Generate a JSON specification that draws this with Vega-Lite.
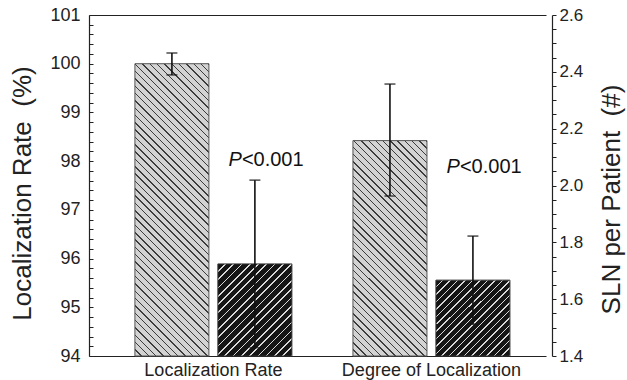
{
"$schema": "https://vega.github.io/schema/vega-lite/v6.json",
"width": 457, "height": 341,
"autosize": "none",
"padding": {"left": 89, "top": 15, "right": 81, "bottom": 24},
"config": {"view": {"stroke": null}, "font": "Liberation Sans",
  "axis": {"grid": false, "domainColor": "#222", "tickColor": "#222", "labelColor": "#222", "titleColor": "#222", "labelFont": "Liberation Sans", "titleFont": "Liberation Sans", "titleFontWeight": "normal", "domainWidth": 1.2, "tickWidth": 1}},
"data": {"values": [
  {"group": "Localization Rate", "series": "A", "value": 100.0, "lower": 99.77, "upper": 100.22},
  {"group": "Localization Rate", "series": "B", "value": 95.89, "lower": 94.17, "upper": 97.61},
  {"group": "Degree of Localization", "series": "A", "value": 2.158, "lower": 1.963, "upper": 2.357},
  {"group": "Degree of Localization", "series": "B", "value": 1.667, "lower": 1.512, "upper": 1.822}
]},
"encoding": {
  "x": {"field": "group", "type": "nominal", "scale": {"domain": ["Localization Rate", "Degree of Localization"], "paddingInner": 0.28, "paddingOuter": 0.188, "align": 0.56}, "axis": null},
  "xOffset": {"field": "series", "type": "nominal", "scale": {"domain": ["A", "B"], "paddingInner": 0.108, "paddingOuter": 0}}
},
"resolve": {"scale": {"y": "independent"}, "axis": {"x": "independent", "y": "independent"}},
"layer": [
   {"transform": [{"filter": "datum.group === 'Localization Rate' && datum.series === 'A'"}],
    "mark": {"type": "bar", "stroke": "#555", "strokeWidth": 1,
      "fill": {"gradient": "linear", "x1": 0, "y1": 1, "x2": 0.2982, "y2": -0.1777, "stops": [
{"offset":0,"color":"#d3d3d3"},{"offset":0.016,"color":"#d3d3d3"},{"offset":0.016,"color":"#3c3c3c"},{"offset":0.02,"color":"#3c3c3c"},
{"offset":0.02,"color":"#d3d3d3"},{"offset":0.036,"color":"#d3d3d3"},{"offset":0.036,"color":"#3c3c3c"},{"offset":0.04,"color":"#3c3c3c"},
{"offset":0.04,"color":"#d3d3d3"},{"offset":0.056,"color":"#d3d3d3"},{"offset":0.056,"color":"#3c3c3c"},{"offset":0.06,"color":"#3c3c3c"},
{"offset":0.06,"color":"#d3d3d3"},{"offset":0.076,"color":"#d3d3d3"},{"offset":0.076,"color":"#3c3c3c"},{"offset":0.08,"color":"#3c3c3c"},
{"offset":0.08,"color":"#d3d3d3"},{"offset":0.096,"color":"#d3d3d3"},{"offset":0.096,"color":"#3c3c3c"},{"offset":0.1,"color":"#3c3c3c"},
{"offset":0.1,"color":"#d3d3d3"},{"offset":0.116,"color":"#d3d3d3"},{"offset":0.116,"color":"#3c3c3c"},{"offset":0.12,"color":"#3c3c3c"},
{"offset":0.12,"color":"#d3d3d3"},{"offset":0.136,"color":"#d3d3d3"},{"offset":0.136,"color":"#3c3c3c"},{"offset":0.14,"color":"#3c3c3c"},
{"offset":0.14,"color":"#d3d3d3"},{"offset":0.156,"color":"#d3d3d3"},{"offset":0.156,"color":"#3c3c3c"},{"offset":0.16,"color":"#3c3c3c"},
{"offset":0.16,"color":"#d3d3d3"},{"offset":0.176,"color":"#d3d3d3"},{"offset":0.176,"color":"#3c3c3c"},{"offset":0.18,"color":"#3c3c3c"},
{"offset":0.18,"color":"#d3d3d3"},{"offset":0.196,"color":"#d3d3d3"},{"offset":0.196,"color":"#3c3c3c"},{"offset":0.2,"color":"#3c3c3c"},
{"offset":0.2,"color":"#d3d3d3"},{"offset":0.216,"color":"#d3d3d3"},{"offset":0.216,"color":"#3c3c3c"},{"offset":0.22,"color":"#3c3c3c"},
{"offset":0.22,"color":"#d3d3d3"},{"offset":0.236,"color":"#d3d3d3"},{"offset":0.236,"color":"#3c3c3c"},{"offset":0.24,"color":"#3c3c3c"},
{"offset":0.24,"color":"#d3d3d3"},{"offset":0.256,"color":"#d3d3d3"},{"offset":0.256,"color":"#3c3c3c"},{"offset":0.26,"color":"#3c3c3c"},
{"offset":0.26,"color":"#d3d3d3"},{"offset":0.276,"color":"#d3d3d3"},{"offset":0.276,"color":"#3c3c3c"},{"offset":0.28,"color":"#3c3c3c"},
{"offset":0.28,"color":"#d3d3d3"},{"offset":0.296,"color":"#d3d3d3"},{"offset":0.296,"color":"#3c3c3c"},{"offset":0.3,"color":"#3c3c3c"},
{"offset":0.3,"color":"#d3d3d3"},{"offset":0.316,"color":"#d3d3d3"},{"offset":0.316,"color":"#3c3c3c"},{"offset":0.32,"color":"#3c3c3c"},
{"offset":0.32,"color":"#d3d3d3"},{"offset":0.336,"color":"#d3d3d3"},{"offset":0.336,"color":"#3c3c3c"},{"offset":0.34,"color":"#3c3c3c"},
{"offset":0.34,"color":"#d3d3d3"},{"offset":0.356,"color":"#d3d3d3"},{"offset":0.356,"color":"#3c3c3c"},{"offset":0.36,"color":"#3c3c3c"},
{"offset":0.36,"color":"#d3d3d3"},{"offset":0.376,"color":"#d3d3d3"},{"offset":0.376,"color":"#3c3c3c"},{"offset":0.38,"color":"#3c3c3c"},
{"offset":0.38,"color":"#d3d3d3"},{"offset":0.396,"color":"#d3d3d3"},{"offset":0.396,"color":"#3c3c3c"},{"offset":0.4,"color":"#3c3c3c"},
{"offset":0.4,"color":"#d3d3d3"},{"offset":0.416,"color":"#d3d3d3"},{"offset":0.416,"color":"#3c3c3c"},{"offset":0.42,"color":"#3c3c3c"},
{"offset":0.42,"color":"#d3d3d3"},{"offset":0.436,"color":"#d3d3d3"},{"offset":0.436,"color":"#3c3c3c"},{"offset":0.44,"color":"#3c3c3c"},
{"offset":0.44,"color":"#d3d3d3"},{"offset":0.456,"color":"#d3d3d3"},{"offset":0.456,"color":"#3c3c3c"},{"offset":0.46,"color":"#3c3c3c"},
{"offset":0.46,"color":"#d3d3d3"},{"offset":0.476,"color":"#d3d3d3"},{"offset":0.476,"color":"#3c3c3c"},{"offset":0.48,"color":"#3c3c3c"},
{"offset":0.48,"color":"#d3d3d3"},{"offset":0.496,"color":"#d3d3d3"},{"offset":0.496,"color":"#3c3c3c"},{"offset":0.5,"color":"#3c3c3c"},
{"offset":0.5,"color":"#d3d3d3"},{"offset":0.516,"color":"#d3d3d3"},{"offset":0.516,"color":"#3c3c3c"},{"offset":0.52,"color":"#3c3c3c"},
{"offset":0.52,"color":"#d3d3d3"},{"offset":0.536,"color":"#d3d3d3"},{"offset":0.536,"color":"#3c3c3c"},{"offset":0.54,"color":"#3c3c3c"},
{"offset":0.54,"color":"#d3d3d3"},{"offset":0.556,"color":"#d3d3d3"},{"offset":0.556,"color":"#3c3c3c"},{"offset":0.56,"color":"#3c3c3c"},
{"offset":0.56,"color":"#d3d3d3"},{"offset":0.576,"color":"#d3d3d3"},{"offset":0.576,"color":"#3c3c3c"},{"offset":0.58,"color":"#3c3c3c"},
{"offset":0.58,"color":"#d3d3d3"},{"offset":0.596,"color":"#d3d3d3"},{"offset":0.596,"color":"#3c3c3c"},{"offset":0.6,"color":"#3c3c3c"},
{"offset":0.6,"color":"#d3d3d3"},{"offset":0.616,"color":"#d3d3d3"},{"offset":0.616,"color":"#3c3c3c"},{"offset":0.62,"color":"#3c3c3c"},
{"offset":0.62,"color":"#d3d3d3"},{"offset":0.636,"color":"#d3d3d3"},{"offset":0.636,"color":"#3c3c3c"},{"offset":0.64,"color":"#3c3c3c"},
{"offset":0.64,"color":"#d3d3d3"},{"offset":0.656,"color":"#d3d3d3"},{"offset":0.656,"color":"#3c3c3c"},{"offset":0.66,"color":"#3c3c3c"},
{"offset":0.66,"color":"#d3d3d3"},{"offset":0.676,"color":"#d3d3d3"},{"offset":0.676,"color":"#3c3c3c"},{"offset":0.68,"color":"#3c3c3c"},
{"offset":0.68,"color":"#d3d3d3"},{"offset":0.696,"color":"#d3d3d3"},{"offset":0.696,"color":"#3c3c3c"},{"offset":0.7,"color":"#3c3c3c"},
{"offset":0.7,"color":"#d3d3d3"},{"offset":0.716,"color":"#d3d3d3"},{"offset":0.716,"color":"#3c3c3c"},{"offset":0.72,"color":"#3c3c3c"},
{"offset":0.72,"color":"#d3d3d3"},{"offset":0.736,"color":"#d3d3d3"},{"offset":0.736,"color":"#3c3c3c"},{"offset":0.74,"color":"#3c3c3c"},
{"offset":0.74,"color":"#d3d3d3"},{"offset":0.756,"color":"#d3d3d3"},{"offset":0.756,"color":"#3c3c3c"},{"offset":0.76,"color":"#3c3c3c"},
{"offset":0.76,"color":"#d3d3d3"},{"offset":0.776,"color":"#d3d3d3"},{"offset":0.776,"color":"#3c3c3c"},{"offset":0.78,"color":"#3c3c3c"},
{"offset":0.78,"color":"#d3d3d3"},{"offset":0.796,"color":"#d3d3d3"},{"offset":0.796,"color":"#3c3c3c"},{"offset":0.8,"color":"#3c3c3c"},
{"offset":0.8,"color":"#d3d3d3"},{"offset":0.816,"color":"#d3d3d3"},{"offset":0.816,"color":"#3c3c3c"},{"offset":0.82,"color":"#3c3c3c"},
{"offset":0.82,"color":"#d3d3d3"},{"offset":0.836,"color":"#d3d3d3"},{"offset":0.836,"color":"#3c3c3c"},{"offset":0.84,"color":"#3c3c3c"},
{"offset":0.84,"color":"#d3d3d3"},{"offset":0.856,"color":"#d3d3d3"},{"offset":0.856,"color":"#3c3c3c"},{"offset":0.86,"color":"#3c3c3c"},
{"offset":0.86,"color":"#d3d3d3"},{"offset":0.876,"color":"#d3d3d3"},{"offset":0.876,"color":"#3c3c3c"},{"offset":0.88,"color":"#3c3c3c"},
{"offset":0.88,"color":"#d3d3d3"},{"offset":0.896,"color":"#d3d3d3"},{"offset":0.896,"color":"#3c3c3c"},{"offset":0.9,"color":"#3c3c3c"},
{"offset":0.9,"color":"#d3d3d3"},{"offset":0.916,"color":"#d3d3d3"},{"offset":0.916,"color":"#3c3c3c"},{"offset":0.92,"color":"#3c3c3c"},
{"offset":0.92,"color":"#d3d3d3"},{"offset":0.936,"color":"#d3d3d3"},{"offset":0.936,"color":"#3c3c3c"},{"offset":0.94,"color":"#3c3c3c"},
{"offset":0.94,"color":"#d3d3d3"},{"offset":0.956,"color":"#d3d3d3"},{"offset":0.956,"color":"#3c3c3c"},{"offset":0.96,"color":"#3c3c3c"},
{"offset":0.96,"color":"#d3d3d3"},{"offset":0.976,"color":"#d3d3d3"},{"offset":0.976,"color":"#3c3c3c"},{"offset":0.98,"color":"#3c3c3c"},
{"offset":0.98,"color":"#d3d3d3"},{"offset":0.996,"color":"#d3d3d3"},{"offset":0.996,"color":"#3c3c3c"},{"offset":1,"color":"#3c3c3c"}
      ]}},
    "encoding": {
      "x": {"field": "group", "type": "nominal", "scale": {"domain": ["Localization Rate", "Degree of Localization"], "paddingInner": 0.28, "paddingOuter": 0.188, "align": 0.56},
          "axis": {"orient": "bottom", "title": null, "ticks": false, "labelAngle": 0, "labelFontSize": 18, "labelPadding": 5, "domain": true}},
      "y": {"field": "value", "type": "quantitative", "scale": {"domain": [94, 101], "nice": false, "zero": false},
            "axis": {"orient": "left", "title": "Localization Rate \u00a0(%)", "titleFontSize": 26, "titlePadding": 14, "titleY": 178,
                     "values": [94,94.2,94.4,94.6,94.8,95,95.2,95.4,95.6,95.8,96,96.2,96.4,96.6,96.8,97,97.2,97.4,97.6,97.8,98,98.2,98.4,98.6,98.8,99,99.2,99.4,99.6,99.8,100,100.2,100.4,100.6,100.8,101],
                     "labelExpr": "abs(datum.value - round(datum.value)) < 0.001 ? format(datum.value, 'd') : ''",
                     "tickSize": -4, "labelFontSize": 18, "labelPadding": 13, "labelFlush": false, "labelOverlap": false}},
      "y2": {"datum": 94}
    }},
   {"transform": [{"filter": "datum.group === 'Localization Rate' && datum.series === 'B'"}],
    "mark": {"type": "bar", "stroke": "#333", "strokeWidth": 1,
      "fill": {"gradient": "linear", "x1": 0, "y1": 0, "x2": 0.8806, "y2": 1.096, "stops": [
{"offset":0,"color":"#151515"},{"offset":0.04,"color":"#151515"},{"offset":0.04,"color":"#d8d8d8"},{"offset":0.05,"color":"#d8d8d8"},
{"offset":0.05,"color":"#151515"},{"offset":0.09,"color":"#151515"},{"offset":0.09,"color":"#d8d8d8"},{"offset":0.1,"color":"#d8d8d8"},
{"offset":0.1,"color":"#151515"},{"offset":0.14,"color":"#151515"},{"offset":0.14,"color":"#d8d8d8"},{"offset":0.15,"color":"#d8d8d8"},
{"offset":0.15,"color":"#151515"},{"offset":0.19,"color":"#151515"},{"offset":0.19,"color":"#d8d8d8"},{"offset":0.2,"color":"#d8d8d8"},
{"offset":0.2,"color":"#151515"},{"offset":0.24,"color":"#151515"},{"offset":0.24,"color":"#d8d8d8"},{"offset":0.25,"color":"#d8d8d8"},
{"offset":0.25,"color":"#151515"},{"offset":0.29,"color":"#151515"},{"offset":0.29,"color":"#d8d8d8"},{"offset":0.3,"color":"#d8d8d8"},
{"offset":0.3,"color":"#151515"},{"offset":0.34,"color":"#151515"},{"offset":0.34,"color":"#d8d8d8"},{"offset":0.35,"color":"#d8d8d8"},
{"offset":0.35,"color":"#151515"},{"offset":0.39,"color":"#151515"},{"offset":0.39,"color":"#d8d8d8"},{"offset":0.4,"color":"#d8d8d8"},
{"offset":0.4,"color":"#151515"},{"offset":0.44,"color":"#151515"},{"offset":0.44,"color":"#d8d8d8"},{"offset":0.45,"color":"#d8d8d8"},
{"offset":0.45,"color":"#151515"},{"offset":0.49,"color":"#151515"},{"offset":0.49,"color":"#d8d8d8"},{"offset":0.5,"color":"#d8d8d8"},
{"offset":0.5,"color":"#151515"},{"offset":0.54,"color":"#151515"},{"offset":0.54,"color":"#d8d8d8"},{"offset":0.55,"color":"#d8d8d8"},
{"offset":0.55,"color":"#151515"},{"offset":0.59,"color":"#151515"},{"offset":0.59,"color":"#d8d8d8"},{"offset":0.6,"color":"#d8d8d8"},
{"offset":0.6,"color":"#151515"},{"offset":0.64,"color":"#151515"},{"offset":0.64,"color":"#d8d8d8"},{"offset":0.65,"color":"#d8d8d8"},
{"offset":0.65,"color":"#151515"},{"offset":0.69,"color":"#151515"},{"offset":0.69,"color":"#d8d8d8"},{"offset":0.7,"color":"#d8d8d8"},
{"offset":0.7,"color":"#151515"},{"offset":0.74,"color":"#151515"},{"offset":0.74,"color":"#d8d8d8"},{"offset":0.75,"color":"#d8d8d8"},
{"offset":0.75,"color":"#151515"},{"offset":0.79,"color":"#151515"},{"offset":0.79,"color":"#d8d8d8"},{"offset":0.8,"color":"#d8d8d8"},
{"offset":0.8,"color":"#151515"},{"offset":0.84,"color":"#151515"},{"offset":0.84,"color":"#d8d8d8"},{"offset":0.85,"color":"#d8d8d8"},
{"offset":0.85,"color":"#151515"},{"offset":0.89,"color":"#151515"},{"offset":0.89,"color":"#d8d8d8"},{"offset":0.9,"color":"#d8d8d8"},
{"offset":0.9,"color":"#151515"},{"offset":0.94,"color":"#151515"},{"offset":0.94,"color":"#d8d8d8"},{"offset":0.95,"color":"#d8d8d8"},
{"offset":0.95,"color":"#151515"},{"offset":0.99,"color":"#151515"},{"offset":0.99,"color":"#d8d8d8"},{"offset":1,"color":"#d8d8d8"}
      ]}},
    "encoding": {
      "y": {"field": "value", "type": "quantitative", "scale": {"domain": [94, 101], "nice": false, "zero": false}, "axis": null},
      "y2": {"datum": 94}
    }},
   {"transform": [{"filter": "datum.group === 'Localization Rate'"}],
    "mark": {"type": "rule", "color": "#111", "strokeWidth": 1.6},
    "encoding": {
      "y": {"field": "lower", "type": "quantitative", "scale": {"domain": [94, 101], "nice": false, "zero": false}, "axis": null},
      "y2": {"field": "upper"}
    }},
   {"transform": [{"filter": "datum.group === 'Localization Rate'"}],
    "mark": {"type": "tick", "color": "#111", "size": 11, "thickness": 1.6},
    "encoding": {"y": {"field": "upper", "type": "quantitative", "scale": {"domain": [94, 101], "nice": false, "zero": false}, "axis": null}}},
   {"transform": [{"filter": "datum.group === 'Localization Rate'"}],
    "mark": {"type": "tick", "color": "#111", "size": 11, "thickness": 1.6},
    "encoding": {"y": {"field": "lower", "type": "quantitative", "scale": {"domain": [94, 101], "nice": false, "zero": false}, "axis": null}}},
   {"transform": [{"filter": "datum.group === 'Localization Rate' && datum.series === 'B'"}],
    "mark": {"type": "text", "text": "P", "fontStyle": "italic", "fontSize": 20, "align": "right", "baseline": "alphabetic", "dx": -13, "color": "#111"},
    "encoding": {"y": {"datum": 97.9, "type": "quantitative", "scale": {"domain": [94, 101], "nice": false, "zero": false}, "axis": null}}},
   {"transform": [{"filter": "datum.group === 'Localization Rate' && datum.series === 'B'"}],
    "mark": {"type": "text", "text": "<0.001", "fontSize": 20, "align": "left", "baseline": "alphabetic", "dx": -13, "color": "#111"},
    "encoding": {"y": {"datum": 97.9, "type": "quantitative", "scale": {"domain": [94, 101], "nice": false, "zero": false}, "axis": null}}},
   {"transform": [{"filter": "datum.group === 'Degree of Localization' && datum.series === 'A'"}],
    "mark": {"type": "bar", "stroke": "#555", "strokeWidth": 1,
      "fill": {"gradient": "linear", "x1": 0, "y1": 1, "x2": 0.4129, "y2": -0.2017, "stops": [
{"offset":0,"color":"#d3d3d3"},{"offset":0.02,"color":"#d3d3d3"},{"offset":0.02,"color":"#3c3c3c"},{"offset":0.025,"color":"#3c3c3c"},
{"offset":0.025,"color":"#d3d3d3"},{"offset":0.045,"color":"#d3d3d3"},{"offset":0.045,"color":"#3c3c3c"},{"offset":0.05,"color":"#3c3c3c"},
{"offset":0.05,"color":"#d3d3d3"},{"offset":0.07,"color":"#d3d3d3"},{"offset":0.07,"color":"#3c3c3c"},{"offset":0.075,"color":"#3c3c3c"},
{"offset":0.075,"color":"#d3d3d3"},{"offset":0.095,"color":"#d3d3d3"},{"offset":0.095,"color":"#3c3c3c"},{"offset":0.1,"color":"#3c3c3c"},
{"offset":0.1,"color":"#d3d3d3"},{"offset":0.12,"color":"#d3d3d3"},{"offset":0.12,"color":"#3c3c3c"},{"offset":0.125,"color":"#3c3c3c"},
{"offset":0.125,"color":"#d3d3d3"},{"offset":0.145,"color":"#d3d3d3"},{"offset":0.145,"color":"#3c3c3c"},{"offset":0.15,"color":"#3c3c3c"},
{"offset":0.15,"color":"#d3d3d3"},{"offset":0.17,"color":"#d3d3d3"},{"offset":0.17,"color":"#3c3c3c"},{"offset":0.175,"color":"#3c3c3c"},
{"offset":0.175,"color":"#d3d3d3"},{"offset":0.195,"color":"#d3d3d3"},{"offset":0.195,"color":"#3c3c3c"},{"offset":0.2,"color":"#3c3c3c"},
{"offset":0.2,"color":"#d3d3d3"},{"offset":0.22,"color":"#d3d3d3"},{"offset":0.22,"color":"#3c3c3c"},{"offset":0.225,"color":"#3c3c3c"},
{"offset":0.225,"color":"#d3d3d3"},{"offset":0.245,"color":"#d3d3d3"},{"offset":0.245,"color":"#3c3c3c"},{"offset":0.25,"color":"#3c3c3c"},
{"offset":0.25,"color":"#d3d3d3"},{"offset":0.27,"color":"#d3d3d3"},{"offset":0.27,"color":"#3c3c3c"},{"offset":0.275,"color":"#3c3c3c"},
{"offset":0.275,"color":"#d3d3d3"},{"offset":0.295,"color":"#d3d3d3"},{"offset":0.295,"color":"#3c3c3c"},{"offset":0.3,"color":"#3c3c3c"},
{"offset":0.3,"color":"#d3d3d3"},{"offset":0.32,"color":"#d3d3d3"},{"offset":0.32,"color":"#3c3c3c"},{"offset":0.325,"color":"#3c3c3c"},
{"offset":0.325,"color":"#d3d3d3"},{"offset":0.345,"color":"#d3d3d3"},{"offset":0.345,"color":"#3c3c3c"},{"offset":0.35,"color":"#3c3c3c"},
{"offset":0.35,"color":"#d3d3d3"},{"offset":0.37,"color":"#d3d3d3"},{"offset":0.37,"color":"#3c3c3c"},{"offset":0.375,"color":"#3c3c3c"},
{"offset":0.375,"color":"#d3d3d3"},{"offset":0.395,"color":"#d3d3d3"},{"offset":0.395,"color":"#3c3c3c"},{"offset":0.4,"color":"#3c3c3c"},
{"offset":0.4,"color":"#d3d3d3"},{"offset":0.42,"color":"#d3d3d3"},{"offset":0.42,"color":"#3c3c3c"},{"offset":0.425,"color":"#3c3c3c"},
{"offset":0.425,"color":"#d3d3d3"},{"offset":0.445,"color":"#d3d3d3"},{"offset":0.445,"color":"#3c3c3c"},{"offset":0.45,"color":"#3c3c3c"},
{"offset":0.45,"color":"#d3d3d3"},{"offset":0.47,"color":"#d3d3d3"},{"offset":0.47,"color":"#3c3c3c"},{"offset":0.475,"color":"#3c3c3c"},
{"offset":0.475,"color":"#d3d3d3"},{"offset":0.495,"color":"#d3d3d3"},{"offset":0.495,"color":"#3c3c3c"},{"offset":0.5,"color":"#3c3c3c"},
{"offset":0.5,"color":"#d3d3d3"},{"offset":0.52,"color":"#d3d3d3"},{"offset":0.52,"color":"#3c3c3c"},{"offset":0.525,"color":"#3c3c3c"},
{"offset":0.525,"color":"#d3d3d3"},{"offset":0.545,"color":"#d3d3d3"},{"offset":0.545,"color":"#3c3c3c"},{"offset":0.55,"color":"#3c3c3c"},
{"offset":0.55,"color":"#d3d3d3"},{"offset":0.57,"color":"#d3d3d3"},{"offset":0.57,"color":"#3c3c3c"},{"offset":0.575,"color":"#3c3c3c"},
{"offset":0.575,"color":"#d3d3d3"},{"offset":0.595,"color":"#d3d3d3"},{"offset":0.595,"color":"#3c3c3c"},{"offset":0.6,"color":"#3c3c3c"},
{"offset":0.6,"color":"#d3d3d3"},{"offset":0.62,"color":"#d3d3d3"},{"offset":0.62,"color":"#3c3c3c"},{"offset":0.625,"color":"#3c3c3c"},
{"offset":0.625,"color":"#d3d3d3"},{"offset":0.645,"color":"#d3d3d3"},{"offset":0.645,"color":"#3c3c3c"},{"offset":0.65,"color":"#3c3c3c"},
{"offset":0.65,"color":"#d3d3d3"},{"offset":0.67,"color":"#d3d3d3"},{"offset":0.67,"color":"#3c3c3c"},{"offset":0.675,"color":"#3c3c3c"},
{"offset":0.675,"color":"#d3d3d3"},{"offset":0.695,"color":"#d3d3d3"},{"offset":0.695,"color":"#3c3c3c"},{"offset":0.7,"color":"#3c3c3c"},
{"offset":0.7,"color":"#d3d3d3"},{"offset":0.72,"color":"#d3d3d3"},{"offset":0.72,"color":"#3c3c3c"},{"offset":0.725,"color":"#3c3c3c"},
{"offset":0.725,"color":"#d3d3d3"},{"offset":0.745,"color":"#d3d3d3"},{"offset":0.745,"color":"#3c3c3c"},{"offset":0.75,"color":"#3c3c3c"},
{"offset":0.75,"color":"#d3d3d3"},{"offset":0.77,"color":"#d3d3d3"},{"offset":0.77,"color":"#3c3c3c"},{"offset":0.775,"color":"#3c3c3c"},
{"offset":0.775,"color":"#d3d3d3"},{"offset":0.795,"color":"#d3d3d3"},{"offset":0.795,"color":"#3c3c3c"},{"offset":0.8,"color":"#3c3c3c"},
{"offset":0.8,"color":"#d3d3d3"},{"offset":0.82,"color":"#d3d3d3"},{"offset":0.82,"color":"#3c3c3c"},{"offset":0.825,"color":"#3c3c3c"},
{"offset":0.825,"color":"#d3d3d3"},{"offset":0.845,"color":"#d3d3d3"},{"offset":0.845,"color":"#3c3c3c"},{"offset":0.85,"color":"#3c3c3c"},
{"offset":0.85,"color":"#d3d3d3"},{"offset":0.87,"color":"#d3d3d3"},{"offset":0.87,"color":"#3c3c3c"},{"offset":0.875,"color":"#3c3c3c"},
{"offset":0.875,"color":"#d3d3d3"},{"offset":0.895,"color":"#d3d3d3"},{"offset":0.895,"color":"#3c3c3c"},{"offset":0.9,"color":"#3c3c3c"},
{"offset":0.9,"color":"#d3d3d3"},{"offset":0.92,"color":"#d3d3d3"},{"offset":0.92,"color":"#3c3c3c"},{"offset":0.925,"color":"#3c3c3c"},
{"offset":0.925,"color":"#d3d3d3"},{"offset":0.945,"color":"#d3d3d3"},{"offset":0.945,"color":"#3c3c3c"},{"offset":0.95,"color":"#3c3c3c"},
{"offset":0.95,"color":"#d3d3d3"},{"offset":0.97,"color":"#d3d3d3"},{"offset":0.97,"color":"#3c3c3c"},{"offset":0.975,"color":"#3c3c3c"},
{"offset":0.975,"color":"#d3d3d3"},{"offset":0.995,"color":"#d3d3d3"},{"offset":0.995,"color":"#3c3c3c"},{"offset":1,"color":"#3c3c3c"}
      ]}},
    "encoding": {
      "x": {"field": "group", "type": "nominal", "scale": {"domain": ["Localization Rate", "Degree of Localization"], "paddingInner": 0.28, "paddingOuter": 0.188, "align": 0.56},
          "axis": {"orient": "top", "title": null, "ticks": false, "labels": false, "domain": true}},
      "y": {"field": "value", "type": "quantitative", "scale": {"domain": [1.4, 2.6], "nice": false, "zero": false},
            "axis": {"orient": "right", "offset": 6, "title": "SLN per Patient \u00a0(#)", "titleFontSize": 26, "titleAngle": 270, "titleBaseline": "top", "titlePadding": 16, "titleY": 184,
                     "values": [1.4,1.45,1.5,1.55,1.6,1.65,1.7,1.75,1.8,1.85,1.9,1.95,2,2.05,2.1,2.15,2.2,2.25,2.3,2.35,2.4,2.45,2.5,2.55,2.6],
                     "labelExpr": "abs(datum.value * 5 - round(datum.value * 5)) < 0.001 ? format(datum.value, '.1f') : ''",
                     "tickSize": 4, "labelFontSize": 17, "labelPadding": 3, "labelFlush": false, "labelOverlap": false}},
      "y2": {"datum": 1.4}
    }},
   {"transform": [{"filter": "datum.group === 'Degree of Localization' && datum.series === 'B'"}],
    "mark": {"type": "bar", "stroke": "#333", "strokeWidth": 1,
      "fill": {"gradient": "linear", "x1": 0, "y1": 0, "x2": 0.9872, "y2": 1.0125, "stops": [
{"offset":0,"color":"#151515"},{"offset":0.04,"color":"#151515"},{"offset":0.04,"color":"#d8d8d8"},{"offset":0.05,"color":"#d8d8d8"},
{"offset":0.05,"color":"#151515"},{"offset":0.09,"color":"#151515"},{"offset":0.09,"color":"#d8d8d8"},{"offset":0.1,"color":"#d8d8d8"},
{"offset":0.1,"color":"#151515"},{"offset":0.14,"color":"#151515"},{"offset":0.14,"color":"#d8d8d8"},{"offset":0.15,"color":"#d8d8d8"},
{"offset":0.15,"color":"#151515"},{"offset":0.19,"color":"#151515"},{"offset":0.19,"color":"#d8d8d8"},{"offset":0.2,"color":"#d8d8d8"},
{"offset":0.2,"color":"#151515"},{"offset":0.24,"color":"#151515"},{"offset":0.24,"color":"#d8d8d8"},{"offset":0.25,"color":"#d8d8d8"},
{"offset":0.25,"color":"#151515"},{"offset":0.29,"color":"#151515"},{"offset":0.29,"color":"#d8d8d8"},{"offset":0.3,"color":"#d8d8d8"},
{"offset":0.3,"color":"#151515"},{"offset":0.34,"color":"#151515"},{"offset":0.34,"color":"#d8d8d8"},{"offset":0.35,"color":"#d8d8d8"},
{"offset":0.35,"color":"#151515"},{"offset":0.39,"color":"#151515"},{"offset":0.39,"color":"#d8d8d8"},{"offset":0.4,"color":"#d8d8d8"},
{"offset":0.4,"color":"#151515"},{"offset":0.44,"color":"#151515"},{"offset":0.44,"color":"#d8d8d8"},{"offset":0.45,"color":"#d8d8d8"},
{"offset":0.45,"color":"#151515"},{"offset":0.49,"color":"#151515"},{"offset":0.49,"color":"#d8d8d8"},{"offset":0.5,"color":"#d8d8d8"},
{"offset":0.5,"color":"#151515"},{"offset":0.54,"color":"#151515"},{"offset":0.54,"color":"#d8d8d8"},{"offset":0.55,"color":"#d8d8d8"},
{"offset":0.55,"color":"#151515"},{"offset":0.59,"color":"#151515"},{"offset":0.59,"color":"#d8d8d8"},{"offset":0.6,"color":"#d8d8d8"},
{"offset":0.6,"color":"#151515"},{"offset":0.64,"color":"#151515"},{"offset":0.64,"color":"#d8d8d8"},{"offset":0.65,"color":"#d8d8d8"},
{"offset":0.65,"color":"#151515"},{"offset":0.69,"color":"#151515"},{"offset":0.69,"color":"#d8d8d8"},{"offset":0.7,"color":"#d8d8d8"},
{"offset":0.7,"color":"#151515"},{"offset":0.74,"color":"#151515"},{"offset":0.74,"color":"#d8d8d8"},{"offset":0.75,"color":"#d8d8d8"},
{"offset":0.75,"color":"#151515"},{"offset":0.79,"color":"#151515"},{"offset":0.79,"color":"#d8d8d8"},{"offset":0.8,"color":"#d8d8d8"},
{"offset":0.8,"color":"#151515"},{"offset":0.84,"color":"#151515"},{"offset":0.84,"color":"#d8d8d8"},{"offset":0.85,"color":"#d8d8d8"},
{"offset":0.85,"color":"#151515"},{"offset":0.89,"color":"#151515"},{"offset":0.89,"color":"#d8d8d8"},{"offset":0.9,"color":"#d8d8d8"},
{"offset":0.9,"color":"#151515"},{"offset":0.94,"color":"#151515"},{"offset":0.94,"color":"#d8d8d8"},{"offset":0.95,"color":"#d8d8d8"},
{"offset":0.95,"color":"#151515"},{"offset":0.99,"color":"#151515"},{"offset":0.99,"color":"#d8d8d8"},{"offset":1,"color":"#d8d8d8"}
      ]}},
    "encoding": {
      "y": {"field": "value", "type": "quantitative", "scale": {"domain": [1.4, 2.6], "nice": false, "zero": false}, "axis": null},
      "y2": {"datum": 1.4}
    }},
   {"transform": [{"filter": "datum.group === 'Degree of Localization'"}],
    "mark": {"type": "rule", "color": "#111", "strokeWidth": 1.6},
    "encoding": {
      "y": {"field": "lower", "type": "quantitative", "scale": {"domain": [1.4, 2.6], "nice": false, "zero": false}, "axis": null},
      "y2": {"field": "upper"}
    }},
   {"transform": [{"filter": "datum.group === 'Degree of Localization'"}],
    "mark": {"type": "tick", "color": "#111", "size": 11, "thickness": 1.6},
    "encoding": {"y": {"field": "upper", "type": "quantitative", "scale": {"domain": [1.4, 2.6], "nice": false, "zero": false}, "axis": null}}},
   {"transform": [{"filter": "datum.group === 'Degree of Localization'"}],
    "mark": {"type": "tick", "color": "#111", "size": 11, "thickness": 1.6},
    "encoding": {"y": {"field": "lower", "type": "quantitative", "scale": {"domain": [1.4, 2.6], "nice": false, "zero": false}, "axis": null}}},
   {"transform": [{"filter": "datum.group === 'Degree of Localization' && datum.series === 'B'"}],
    "mark": {"type": "text", "text": "P", "fontStyle": "italic", "fontSize": 20, "align": "right", "baseline": "alphabetic", "dx": -13, "color": "#111"},
    "encoding": {"y": {"datum": 2.044, "type": "quantitative", "scale": {"domain": [1.4, 2.6], "nice": false, "zero": false}, "axis": null}}},
   {"transform": [{"filter": "datum.group === 'Degree of Localization' && datum.series === 'B'"}],
    "mark": {"type": "text", "text": "<0.001", "fontSize": 20, "align": "left", "baseline": "alphabetic", "dx": -13, "color": "#111"},
    "encoding": {"y": {"datum": 2.044, "type": "quantitative", "scale": {"domain": [1.4, 2.6], "nice": false, "zero": false}, "axis": null}}}
]
}
